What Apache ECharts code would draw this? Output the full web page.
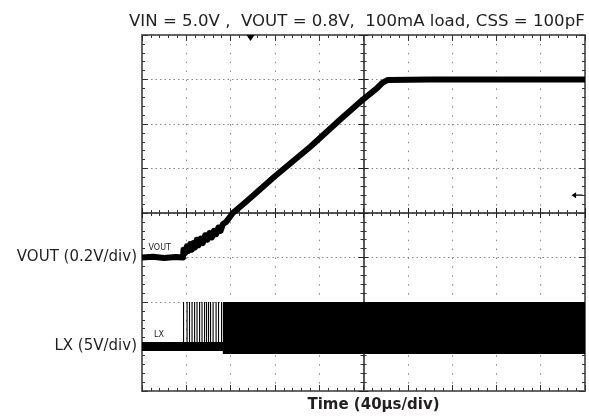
<!DOCTYPE html>
<html>
<head>
<meta charset="utf-8">
<script src="https://cdn.jsdelivr.net/npm/echarts@6/dist/echarts.min.js"></script>
<style>
html, body { margin: 0; padding: 0; background: #fff; }
#main { width: 589px; height: 417px; }
</style>
</head>
<body>
<div id="main"></div>
<script>
// time in us (40us/div, 10 div)
var voutTime = [0, 10, 20, 30, 37, 37.5, 39, 40.5, 42, 43.5, 45, 46.5, 48, 49.5, 51, 53, 55, 57, 59, 61, 63, 65, 67, 69, 71, 73, 76, 79, 82, 95, 120, 152, 180, 200, 212, 217, 222, 260, 320, 400];
var voutVolt = [0, 0.003, -0.002, 0.002, 0, 0.035, 0.02, 0.05, 0.03, 0.06, 0.035, 0.065, 0.045, 0.08, 0.055, 0.085, 0.065, 0.1, 0.08, 0.11, 0.09, 0.12, 0.105, 0.135, 0.12, 0.15, 0.16, 0.18, 0.2, 0.255, 0.365, 0.498, 0.625, 0.712, 0.76, 0.785, 0.798, 0.8, 0.8, 0.8];
// LX: idle low level, single pulses at soft start, then continuous switching
var lxLowTime = [0, 400];
var lxLowVolt = [0, 0];
var lxPulseTime = [37.0, 40.2, 42.4, 44.7, 47.0, 49.2, 51.5, 53.7, 56.0, 57.8, 59.6, 61.4, 63.7, 66.4, 68.6, 71.3];
var lxPulseVolt = 5;
var lxPulseWidth = 1.0;
var lxBurstTime = [73, 400];
var lxBurstVolt = [5.0, -0.85];

// scope channel settings (div position of ground, volts per div)
var voutOffset = 3, voutScale = 0.2;
var lxOffset = 1, lxScale = 5;
var triggerTime = 98;
var triggerLevel = 4.4;

var font = 'DejaVu Sans';

function voutDiv(v) { return voutOffset + v / voutScale; }
function lxDiv(v) { return lxOffset + v / lxScale; }

var voutData = voutTime.map(function (t, i) { return [t, voutDiv(voutVolt[i])]; });
var lxLowData = lxLowTime.map(function (t, i) { return [t, lxDiv(lxLowVolt[i])]; });
var lxPulseData = lxPulseTime.map(function (t) { return [t, t + lxPulseWidth, lxDiv(lxPulseVolt), lxDiv(0)]; });
var lxBurstData = [[lxBurstTime[0], lxBurstTime[1], lxDiv(lxBurstVolt[0]), lxDiv(lxBurstVolt[1])]];

function rectItem(params, api) {
	var p0 = api.coord([api.value(0), api.value(2)]);
	var p1 = api.coord([api.value(1), api.value(3)]);
	return {
		type: 'rect',
		shape: { x: p0[0], y: p0[1], width: p1[0] - p0[0], height: p1[1] - p0[1] },
		style: { fill: '#000' }
	};
}

//刻度轴, 示波器格子
function axis(dim, extra) {
	var base = {
		type: 'value',
		min: 0,
		max: dim === 'x' ? 400 : 8,
		interval: dim === 'x' ? 40 : 1,
		axisLabel: { show: false },
		splitLine: { show: false },
		axisTick: { show: true, inside: true, length: 6, lineStyle: { color: '#333', width: 1 } },
		minorTick: { show: true, splitNumber: 5, length: 3, lineStyle: { color: '#333', width: 1 } },
		axisLine: { show: true, onZero: false, lineStyle: { color: '#666', width: 2 } }
	};
	return Object.assign(base, extra);
}

var centerLine = { show: true, onZero: false, lineStyle: { color: '#222', width: 1.5 } };

var option = {
	animation: false,
	title: {
		text: 'VIN = 5.0V ,  VOUT = 0.8V,  100mA load, CSS = 100pF',
		left: 124,
		top: 8,
		textStyle: { fontFamily: font, fontSize: 16.6, fontWeight: 'normal', color: '#231f20' }
	},
	grid: { left: 142, top: 35, width: 443, height: 356, show: false, containLabel: false, outerBoundsMode: 'none' },
	xAxis: [
		axis('x', {
			position: 'bottom',
			splitLine: { show: true, lineStyle: { color: '#888', width: 1, type: [1.5, 7.4] } },
			name: 'Time (40µs/div)',
			nameLocation: 'middle',
			nameGap: 7,
			nameTextStyle: { fontFamily: font, fontSize: 15, fontWeight: 'bold', color: '#231f20', padding: [0, 0, 0, 20] }
		}),
		axis('x', { position: 'top' }),
		axis('x', { position: 'bottom', offset: -178, axisLine: centerLine, axisTick: { show: true, inside: true, length: 5, lineStyle: { color: '#222' } } }),
		axis('x', { position: 'bottom', offset: -178, axisLine: { show: false }, axisTick: { show: true, inside: false, length: 5, lineStyle: { color: '#222' } } })
	],
	yAxis: [
		axis('y', {
			position: 'left',
			splitLine: { show: true, lineStyle: { color: '#888', width: 1, type: [1.5, 3] } },
			axisLabel: {
				show: true,
				margin: 5,
				fontFamily: font,
				fontSize: 15,
				color: '#231f20',
				formatter: function (v) {
					if (v === voutOffset) return 'VOUT (0.2V/div)';
					if (v === lxOffset) return 'LX (5V/div)';
					return '';
				}
			}
		}),
		axis('y', { position: 'right' }),
		axis('y', { position: 'left', offset: -221.5, axisLine: centerLine, axisTick: { show: true, inside: true, length: 5, lineStyle: { color: '#222' } } }),
		axis('y', { position: 'left', offset: -221.5, axisLine: { show: false }, axisTick: { show: true, inside: false, length: 5, lineStyle: { color: '#222' } } })
	],
	series: [
		{
			type: 'custom',
			name: 'LX burst',
			xAxisIndex: 0,
			yAxisIndex: 0,
			renderItem: rectItem,
			encode: { x: [0, 1], y: [2, 3] },
			data: lxBurstData,
			z: 3
		},
		{
			type: 'custom',
			name: 'LX pulses',
			xAxisIndex: 0,
			yAxisIndex: 0,
			renderItem: rectItem,
			encode: { x: [0, 1], y: [2, 3] },
			data: lxPulseData,
			z: 3
		},
		{
			type: 'line',
			name: 'LX',
			data: lxLowData,
			showSymbol: false,
			lineStyle: { color: '#000', width: 9 },
			z: 4,
			markPoint: {
				symbol: 'circle',
				symbolSize: 0,
				label: { show: true, position: 'inside', formatter: 'LX', fontFamily: font, fontSize: 8, color: '#222' },
				data: [{ coord: [15.4, 1.26] }]
			}
		},
		{
			type: 'line',
			name: 'VOUT',
			data: voutData,
			showSymbol: false,
			lineStyle: { color: '#000', width: 6, join: 'round' },
			z: 5,
			markPoint: {
				label: { show: true, position: 'inside', fontFamily: font, fontSize: 8, color: '#222' },
				data: [
					{ coord: [16, 3.22], symbol: 'circle', symbolSize: 0, label: { formatter: 'VOUT' } },
					{ coord: [triggerTime, 8], symbol: 'triangle', symbolRotate: 180, symbolSize: [8, 6], symbolOffset: [0, 3], itemStyle: { color: '#000' }, label: { show: false } },
					{ coord: [400, triggerLevel], symbol: 'path://M0,5 L5,0 L5,4 L12,4 L12,6 L5,6 L5,10 Z', symbolSize: [11, 6], symbolOffset: [-8, 0], itemStyle: { color: '#000' }, label: { show: false } }
				]
			}
		}
	]
};

var chart = echarts.init(document.getElementById('main'));
chart.setOption(option);
</script>
</body>
</html>
